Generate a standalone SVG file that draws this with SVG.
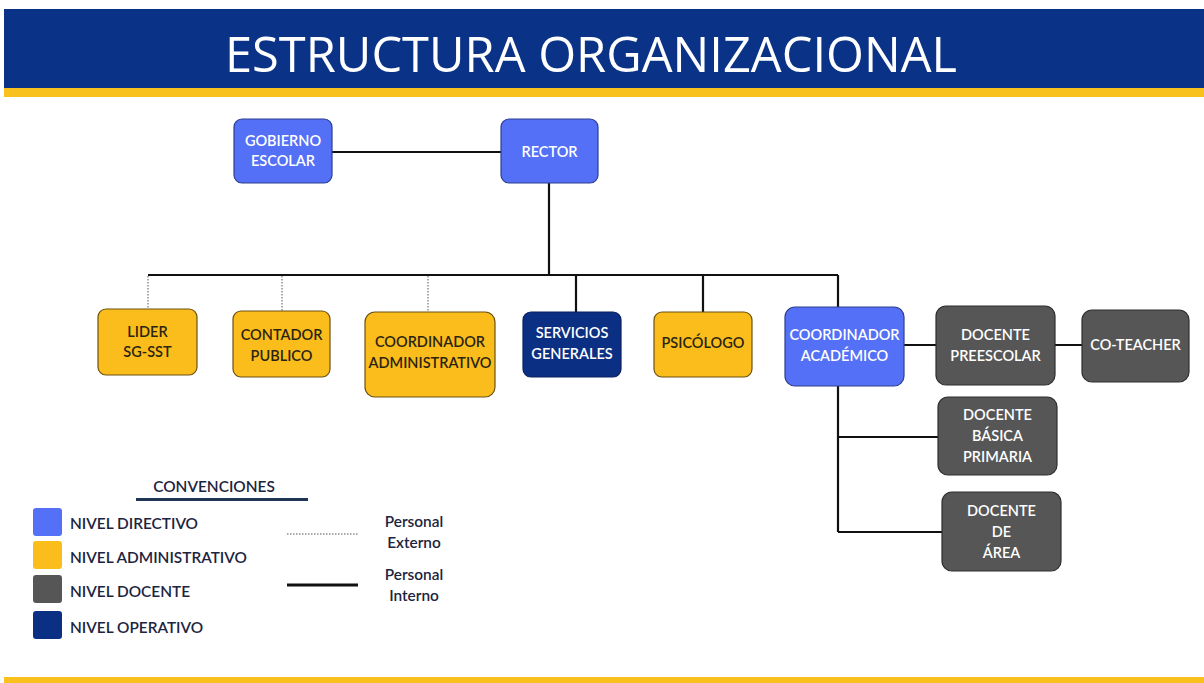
<svg xmlns="http://www.w3.org/2000/svg" width="1204" height="683" viewBox="0 0 1204 683">
<style>
.t{font-family:Lato,"Open Sans","Liberation Sans",sans-serif;font-size:14.5px;font-weight:600;text-anchor:middle}
.w{fill:#ffffff}
.d{fill:#2a2412}
.dir{fill:#5470f6;stroke:#2c3f8f;stroke-width:1.2}
.adm{fill:#fbbd1b;stroke:#6b5212;stroke-width:1.2}
.doc{fill:#565656;stroke:#2e2e2e;stroke-width:1.2}
.op{fill:#0b2f82;stroke:#0a2060;stroke-width:1.2}
.s{stroke:#111;stroke-width:2.2;fill:none}
.dt{stroke:#555;stroke-width:1;stroke-dasharray:1.5 1.5;fill:none}
.lg{font-family:Lato,"Open Sans","Liberation Sans",sans-serif;font-size:15.4px;font-weight:600;fill:#1c2440}
</style>
<rect width="1204" height="683" fill="#ffffff"/>
<g id="header">
<rect x="4" y="9" width="1200" height="79" fill="#0a3287"/>
<rect x="4" y="88" width="1200" height="9" fill="#f8c11d"/>
<text x="225" y="72" font-family="'Open Sans','Liberation Sans',sans-serif" font-size="49" font-weight="500" fill="#ffffff" textLength="732" lengthAdjust="spacingAndGlyphs">ESTRUCTURA ORGANIZACIONAL</text>
</g>
<rect x="4" y="677" width="1200" height="6" fill="#f8c11d"/>
<g id="connectors">
<path class="s" d="M332 152H501"/>
<path class="s" d="M549 183V275"/>
<path class="s" d="M148 275H838"/>
<path class="s" d="M576 275V312M703 275V312M838 275V307"/>
<path class="dt" d="M148 276V309M282 276V311M428 276V312"/>
<path class="s" d="M904 345H936M1055 345H1082"/>
<path class="s" d="M838 386V532M838 437H938M838 532H942"/>
</g>
<g id="gobierno"><rect class="dir" x="234" y="119" width="98" height="64" rx="8"/><text class="t w" x="283" y="146">GOBIERNO</text><text class="t w" x="283" y="166">ESCOLAR</text></g>
<g id="rector"><rect class="dir" x="501" y="119" width="97" height="64" rx="8"/><text class="t w" x="549.5" y="157">RECTOR</text></g>
<g id="lider"><rect class="adm" x="98" y="309" width="99" height="66" rx="8"/><text class="t d" x="147.5" y="337">LIDER</text><text class="t d" x="147.5" y="357">SG-SST</text></g>
<g id="contador"><rect class="adm" x="233" y="311" width="97" height="66" rx="8"/><text class="t d" x="281.5" y="340">CONTADOR</text><text class="t d" x="281.5" y="361">PUBLICO</text></g>
<g id="coord-admin"><rect class="adm" x="365" y="312" width="130" height="85" rx="10"/><text class="t d" x="430" y="347">COORDINADOR</text><text class="t d" x="430" y="368">ADMINISTRATIVO</text></g>
<g id="servicios"><rect class="op" x="523" y="312" width="98" height="65" rx="8"/><text class="t w" x="572" y="338">SERVICIOS</text><text class="t w" x="572" y="359">GENERALES</text></g>
<g id="psicologo"><rect class="adm" x="654" y="312" width="98" height="65" rx="8"/><text class="t d" x="703" y="348">PSICÓLOGO</text></g>
<g id="coord-acad"><rect class="dir" x="785" y="307" width="119" height="79" rx="10"/><text class="t w" x="844.5" y="340">COORDINADOR</text><text class="t w" x="844.5" y="361">ACADÉMICO</text></g>
<g id="preescolar"><rect class="doc" x="936" y="306" width="119" height="79" rx="10"/><text class="t w" x="995.5" y="340">DOCENTE</text><text class="t w" x="995.5" y="361">PREESCOLAR</text></g>
<g id="coteacher"><rect class="doc" x="1082" y="310" width="107" height="72" rx="10"/><text class="t w" x="1135.5" y="350">CO-TEACHER</text></g>
<g id="basica"><rect class="doc" x="938" y="397" width="119" height="78" rx="10"/><text class="t w" x="997.5" y="420">DOCENTE</text><text class="t w" x="997.5" y="441">BÁSICA</text><text class="t w" x="997.5" y="462">PRIMARIA</text></g>
<g id="area"><rect class="doc" x="942" y="492" width="119" height="79" rx="10"/><text class="t w" x="1001.5" y="516">DOCENTE</text><text class="t w" x="1001.5" y="537">DE</text><text class="t w" x="1001.5" y="558">ÁREA</text></g>
<g id="legend">
<text class="lg" x="214" y="492" text-anchor="middle">CONVENCIONES</text>
<rect x="136" y="498" width="172" height="3" fill="#1e3556"/>
<rect x="33" y="508" width="29" height="28" rx="3" fill="#5470f6"/>
<rect x="33" y="541" width="29" height="28" rx="3" fill="#fbbd1b"/>
<rect x="33" y="575" width="29" height="28" rx="3" fill="#565656"/>
<rect x="33" y="611" width="29" height="28" rx="3" fill="#0b2f82"/>
<text class="lg" x="70" y="529">NIVEL DIRECTIVO</text>
<text class="lg" x="70" y="563">NIVEL ADMINISTRATIVO</text>
<text class="lg" x="70" y="597">NIVEL DOCENTE</text>
<text class="lg" x="70" y="633">NIVEL OPERATIVO</text>
<path class="dt" d="M287 534H358"/>
<path d="M287 585H358" stroke="#111" stroke-width="3"/>
<text class="lg" x="414" y="527" text-anchor="middle">Personal</text>
<text class="lg" x="414" y="548" text-anchor="middle">Externo</text>
<text class="lg" x="414" y="580" text-anchor="middle">Personal</text>
<text class="lg" x="414" y="601" text-anchor="middle">Interno</text>
</g>
</svg>
